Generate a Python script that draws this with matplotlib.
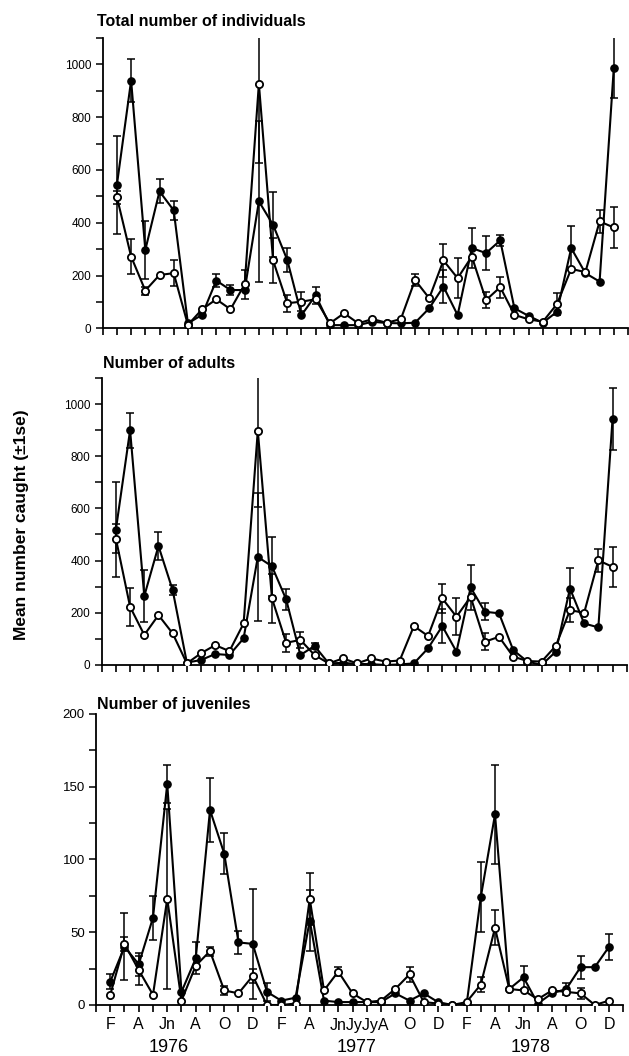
import numpy as np
import matplotlib
matplotlib.use('Agg')
from matplotlib import pyplot as plt
from matplotlib.ticker import MultipleLocator

plt.rcParams['font.family'] = ['Liberation Sans', 'DejaVu Sans']

# sampling occasions 1..36 (Feb 1976 - Dec 1978, two July samples in 1977)
x = np.arange(1, 37)

# total number of individuals
tot_filled = [544, 939, 297, 519, 447, 19, 51, 181, 145, 145, 481, 392, 259, 50, 125, 12, 12, 12,
              25, 20, 19, 21, 76, 158, 50, 304, 285, 333, 76, 47, 21, 63, 304, 209, 177, 987]
tot_filled_se = [186, 80, 110, 46, 37, 0, 10, 25, 20, 0, 304, 123, 45, 0, 33, 0, 0, 0,
                 0, 0, 0, 0, 0, 63, 0, 76, 65, 21, 0, 0, 0, 0, 82, 0, 0, 115]
tot_open = [497, 272, 143, 202, 209, 13, 72, 110, 72, 167, 927, 257, 95, 101, 110, 19, 57, 19,
            35, 21, 35, 183, 114, 257, 190, 272, 107, 156, 51, 34, 25, 92, 225, 213, 405, 382]
tot_open_se = [25, 67, 15, 0, 48, 0, 0, 0, 0, 55, 300, 86, 32, 35, 0, 0, 0, 0,
               0, 0, 0, 23, 0, 64, 76, 0, 30, 40, 0, 0, 0, 42, 0, 0, 45, 76]

# number of adults
ad_filled = [519, 900, 264, 456, 287, 9, 19, 42, 38, 102, 414, 378, 251, 38, 73, 6, 8, 4,
             3, 0, 2, 6, 64, 149, 51, 297, 204, 198, 57, 13, 0, 51, 293, 159, 144, 943]
ad_filled_se = [183, 67, 100, 53, 20, 0, 0, 0, 0, 0, 244, 112, 42, 0, 10, 0, 0, 0,
                0, 0, 0, 0, 0, 66, 0, 85, 32, 0, 0, 0, 0, 0, 77, 0, 0, 118]
ad_open = [484, 223, 115, 191, 121, 6, 45, 76, 53, 159, 898, 255, 85, 96, 38, 6, 25, 6,
           25, 13, 17, 149, 111, 255, 185, 261, 89, 108, 32, 15, 13, 73, 210, 200, 401, 376]
ad_open_se = [55, 73, 0, 0, 0, 0, 0, 0, 0, 0, 293, 93, 34, 31, 0, 0, 0, 0,
              0, 0, 0, 0, 0, 57, 70, 0, 32, 0, 0, 0, 0, 0, 45, 0, 45, 76]

# number of juveniles
juv_filled = [16, 40, 28, 60, 152, 9, 32, 134, 104, 43, 42, 9, 3, 5, 58, 3, 2, 2,
              2, 2, 8, 3, 8, 2, 0, 0, 74, 131, 11, 19, 1, 8, 11, 26, 26, 40]
juv_filled_se = [5, 23, 8, 15, 13, 0, 11, 22, 14, 8, 38, 6, 0, 0, 21, 0, 0, 0,
                 0, 0, 0, 0, 0, 0, 0, 0, 24, 34, 0, 8, 0, 0, 4, 8, 0, 9]
juv_open = [7, 42, 24, 7, 73, 3, 27, 37, 10, 8, 20, 0, 0, 1, 73, 10, 23, 8,
            2, 3, 11, 21, 2, 1, 0, 2, 14, 53, 11, 10, 4, 10, 9, 8, 0, 3]
juv_open_se = [0, 5, 10, 0, 62, 0, 0, 3, 3, 0, 5, 0, 0, 0, 18, 0, 3, 0,
               0, 0, 0, 5, 0, 0, 0, 0, 5, 12, 0, 0, 0, 0, 0, 4, 0, 0]

month_pos = [1, 3, 5, 7, 9, 11, 13, 15, 22, 24, 26, 28, 30, 32, 34, 36]
month_lab = ['F', 'A', 'Jn', 'A', 'O', 'D', 'F', 'A', 'O', 'D',
             'F', 'A', 'Jn', 'A', 'O', 'D']
# the crowded June-August 1977 samples are labelled as one run of text
summer77_pos = 18.5
summer77_lab = 'JnJyJyA'
years = ['1976', '1977', '1978']
year_pos = [5.1, 18.3, 30.5]

fig = plt.figure(figsize=(6.29, 10.56), dpi=100)

boxes = [[0.1633, 0.6891, 0.8351, 0.2749],
         [0.1617, 0.3703, 0.8347, 0.2718],
         [0.1526, 0.0483, 0.8383, 0.2756]]
panels = [(tot_filled, tot_filled_se, tot_open, tot_open_se),
          (ad_filled, ad_filled_se, ad_open, ad_open_se),
          (juv_filled, juv_filled_se, juv_open, juv_open_se)]


def draw(ax, f, fse, o, ose):
    f, fse, o, ose = map(np.array, (f, fse, o, ose))
    m = fse > 0
    ax.errorbar(x[m], f[m], yerr=fse[m], fmt='none', ecolor='k', elinewidth=1.1,
                capsize=3, capthick=1.1, zorder=2)
    m = ose > 0
    ax.errorbar(x[m], o[m], yerr=ose[m], fmt='none', ecolor='k', elinewidth=1.1,
                capsize=3, capthick=1.1, zorder=2)
    ax.plot(x, f, '-o', color='k', lw=1.5, ms=5.2, zorder=3)
    ax.plot(x, o, '-o', color='k', mfc='white', mec='k', mew=1.3, lw=1.5, ms=5.2, zorder=4)


for i, (box, data) in enumerate(zip(boxes, panels)):
    ax = fig.add_axes(box)
    draw(ax, *data)
    ax.set_xlim(0, 37)
    ax.spines['top'].set_visible(False)
    ax.spines['right'].set_visible(False)
    ax.spines['left'].set_linewidth(1.3)
    ax.spines['bottom'].set_linewidth(1.3)
    ax.set_xticks(np.arange(0, 38))
    ax.tick_params(axis='x', direction='out', length=5, width=1.2)
    ax.tick_params(axis='y', which='both', direction='out', width=1.1)
    ax.tick_params(axis='y', which='major', length=5, labelsize=8.5, pad=3)
    ax.tick_params(axis='y', which='minor', length=5)
    if i < 2:
        ax.set_ylim(0, 1100)
        ax.set_yticks([0, 200, 400, 600, 800, 1000])
        ax.yaxis.set_minor_locator(MultipleLocator(100))
        ax.set_xticklabels([])
    else:
        ax.set_ylim(0, 200)
        ax.set_yticks([0, 50, 100, 150, 200])
        ax.yaxis.set_minor_locator(MultipleLocator(25))
        ax.tick_params(axis='y', labelsize=9.5)
        labels = [''] * 38
        for p, l in zip(month_pos, month_lab):
            labels[p] = l
        ax.set_xticklabels(labels, fontsize=11.5)
        ax.tick_params(axis='x', pad=4)
        ax.text(summer77_pos, -0.043, summer77_lab, transform=ax.get_xaxis_transform(),
                ha='center', va='top', fontsize=11.5)
        for p, y in zip(year_pos, years):
            ax.text(p, -0.145, y, transform=ax.get_xaxis_transform(),
                    ha='center', va='center', fontsize=13)

fig.text(97 / 629, 1 - 22 / 1056, 'Total number of individuals', fontsize=11.5,
         fontweight='bold', va='center')
fig.text(103 / 629, 1 - 364 / 1056, 'Number of adults', fontsize=11.5,
         fontweight='bold', va='center')
fig.text(97 / 629, 1 - 705 / 1056, 'Number of juveniles', fontsize=11.5,
         fontweight='bold', va='center')
fig.text(22 / 629, 1 - 525 / 1056, 'Mean number caught (±1se)', rotation=90,
         fontsize=12.5, fontweight='bold', va='center', ha='center')

fig.savefig('out.png', dpi=100)
